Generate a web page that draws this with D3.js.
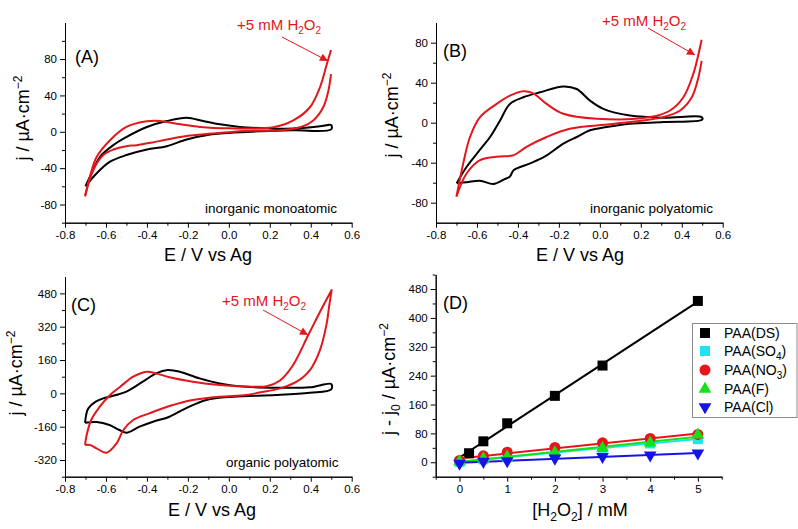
<!DOCTYPE html>
<html>
<head>
<meta charset="utf-8">
<script src="https://cdnjs.cloudflare.com/ajax/libs/d3/7.8.5/d3.min.js"></script>
<style>
  body { margin: 0; background: #fff; }
  svg text { font-family: "Liberation Sans", Arial, Helvetica, sans-serif; fill: #000; }
  .axis path, .axis line { stroke: #000; stroke-width: 1; }
  .axis text { font-size: 11.5px; font-family: "Liberation Sans", Arial, sans-serif; }
</style>
</head>
<body>
<svg id="fig" width="798" height="529"></svg>
<script>
// ---------- data ----------
// cyclic voltammograms, [E (V vs Ag), j (uA/cm2)]; forward sweep (-0.7 -> 0.5) and return sweep
var cvA_blank_fwd = [[-0.70,-60],[-0.67,-45.6],[-0.629,-27.5],[-0.564,-14.7],[-0.499,-5.6],[-0.40,5.3],[-0.303,11.8],[-0.206,15.5],[-0.125,11.8],[-0.043,8.2],[0.054,5.3],[0.185,3.8],[0.315,3.5],[0.445,6],[0.50,7.4]];
var cvA_blank_rev = [[0.50,2.7],[0.315,1.6],[0.15,0.5],[0.0,-1.3],[-0.11,-3.8],[-0.206,-8.5],[-0.303,-15.8],[-0.40,-19.5],[-0.50,-25.6],[-0.58,-32.9],[-0.645,-45.6],[-0.70,-60]];
var cvA_h2o2_fwd  = [[-0.702,-71],[-0.678,-49],[-0.645,-27.5],[-0.58,-9.3],[-0.50,5.3],[-0.40,11.5],[-0.336,11.8],[-0.255,8.9],[-0.14,5.3],[0.0,3.8],[0.217,5],[0.315,12.5],[0.396,27],[0.445,49],[0.478,74],[0.499,90]];
var cvA_h2o2_rev  = [[0.499,63.5],[0.486,45],[0.461,27],[0.412,12.5],[0.348,5],[0.25,1.6],[0.07,0.9],[-0.08,-2],[-0.206,-4.6],[-0.303,-8.5],[-0.38,-12],[-0.45,-14.7],[-0.50,-15.8],[-0.564,-19.5],[-0.613,-25.6],[-0.662,-42],[-0.702,-71]];

var cvB_blank_fwd = [[-0.699,-60.5],[-0.65,-44],[-0.585,-27],[-0.536,-14.3],[-0.487,2.3],[-0.439,18.8],[-0.374,25.4],[-0.292,30.4],[-0.178,36.3],[-0.113,33.7],[-0.048,22.1],[0.017,13.9],[0.147,7.2],[0.31,5],[0.497,5.6]];
var cvB_blank_rev = [[0.50,3],[0.31,0.6],[0.147,-1],[0.033,-4.3],[-0.048,-7.6],[-0.113,-14.3],[-0.178,-20.9],[-0.27,-34],[-0.34,-40.7],[-0.42,-47.3],[-0.44,-54],[-0.467,-56.6],[-0.52,-61.2],[-0.585,-58],[-0.65,-59.5],[-0.699,-60.5]];
var cvB_h2o2_fwd  = [[-0.70,-73.8],[-0.667,-40.7],[-0.634,-14.3],[-0.585,5.6],[-0.504,18.8],[-0.439,27],[-0.374,31.4],[-0.325,29.4],[-0.26,18.8],[-0.178,8.9],[-0.016,4],[0.245,5.6],[0.343,12.2],[0.408,25.4],[0.456,48.6],[0.481,68],[0.497,83]];
var cvB_h2o2_rev  = [[0.497,61.8],[0.481,45],[0.449,25.4],[0.392,12.2],[0.31,5.6],[0.212,2.3],[0.05,-1.5],[-0.147,-6],[-0.26,-14.3],[-0.358,-24.2],[-0.42,-32.4],[-0.504,-34],[-0.585,-37.4],[-0.65,-50.6],[-0.70,-73.8]];

var cvC_blank_fwd = [[-0.702,-141],[-0.696,-100],[-0.686,-72],[-0.65,-40],[-0.613,-24],[-0.55,-8],[-0.50,8],[-0.42,56],[-0.355,96],[-0.298,112],[-0.24,104],[-0.143,72],[-0.045,48],[0.085,32],[0.23,27],[0.396,29],[0.50,45]];
var cvC_blank_rev = [[0.50,19],[0.396,3],[0.23,-8],[0.02,-16],[-0.11,-32],[-0.21,-72],[-0.29,-112],[-0.37,-136],[-0.436,-160],[-0.50,-189],[-0.534,-176],[-0.583,-152],[-0.646,-138],[-0.702,-141]];
var cvC_h2o2_fwd  = [[-0.702,-248],[-0.696,-208],[-0.672,-128],[-0.63,-64],[-0.58,-8],[-0.53,32],[-0.467,80],[-0.40,104],[-0.355,96],[-0.29,77],[-0.176,56],[-0.045,40],[0.118,32],[0.185,34],[0.25,62],[0.31,130],[0.388,280],[0.45,400],[0.502,496]];
var cvC_h2o2_rev  = [[0.502,496],[0.49,420],[0.478,336],[0.445,208],[0.396,112],[0.331,56],[0.25,24],[0.15,4],[0.085,-8],[-0.045,-16],[-0.176,-32],[-0.29,-61],[-0.388,-96],[-0.467,-128],[-0.515,-176],[-0.548,-240],[-0.597,-285],[-0.646,-264],[-0.678,-248],[-0.702,-248]];

// calibration, j - j0 vs [H2O2] (mM)
var concDS = [0.2, 0.5, 1, 2, 3, 5];
var valDS  = [25, 58, 108, 184, 268, 447];
var conc   = [0, 0.5, 1, 2, 3, 4, 5];
var valSO4 = [1, 8, 14, 27, 40, 52, 64];
var valNO3 = [5, 18, 28, 41, 54, 66, 77];
var valF   = [2, 10, 15, 27, 39, 54, 76];
var valCl  = [-3, 2, 3.6, 11, 15.5, 20, 25];

var seriesNames = ["DS", "SO4", "NO3", "F", "Cl"];

// tick values
var cvTicksMajor = [-0.8, -0.6, -0.4, -0.2, 0.0, 0.2, 0.4, 0.6];
var cvTicksMinor = [-0.7, -0.5, -0.3, -0.1, 0.1, 0.3, 0.5];
var yTicksA = [-80, -40, 0, 40, 80],            yMinorA = [-100, -60, -20, 20, 60, 100];
var yTicksB = [-80, -40, 0, 40, 80],            yMinorB = [-60, -20, 20, 60];
var yTicksC = [-320, -160, 0, 160, 320, 480],   yMinorC = [-400, -240, -80, 80, 240, 400];
var xTicksD = [0, 1, 2, 3, 4, 5],               xMinorD = [-0.5, 0.5, 1.5, 2.5, 3.5, 4.5, 5.5];
var yTicksD = [0, 80, 160, 240, 320, 400, 480], yMinorD = [-40, 40, 120, 200, 280, 360, 440, 520];

// ---------- drawing ----------
var RED = "#e3161b";
var svg = d3.select("#fig");

var defs = svg.append("defs");
defs.append("marker")
    .attr("id", "arrowhead")
    .attr("viewBox", "0 0 10 10")
    .attr("refX", 10).attr("refY", 5)
    .attr("markerWidth", 11).attr("markerHeight", 8)
    .attr("markerUnits", "userSpaceOnUse")
    .attr("orient", "auto")
  .append("path")
    .attr("d", "M0,0L10,5L0,10Z")
    .attr("fill", RED);

function makePanel(o) {
  var x = d3.scaleLinear().domain(o.xd).range([o.left, o.right]);
  var y = d3.scaleLinear().domain(o.yd).range([o.bottom, o.top]);
  var g = svg.append("g");

  // minor ticks
  g.append("g").attr("class", "axis")
    .attr("transform", "translate(0," + o.bottom + ")")
    .call(d3.axisBottom(x).tickValues(o.xMinor).tickSize(3).tickSizeOuter(0).tickFormat(""));
  g.append("g").attr("class", "axis")
    .attr("transform", "translate(" + o.left + ",0)")
    .call(d3.axisLeft(y).tickValues(o.yMinor).tickSize(3).tickSizeOuter(0).tickFormat(""));
  // major ticks
  g.append("g").attr("class", "axis")
    .attr("transform", "translate(0," + o.bottom + ")")
    .call(d3.axisBottom(x).tickValues(o.xMajor).tickSize(5).tickSizeOuter(0).tickPadding(3).tickFormat(o.xFmt));
  g.append("g").attr("class", "axis")
    .attr("transform", "translate(" + o.left + ",0)")
    .call(d3.axisLeft(y).tickValues(o.yMajor).tickSize(5).tickSizeOuter(0).tickPadding(3).tickFormat(function(d) { return String(d); }));

  return { g: g, x: x, y: y };
}

function cvFmt(d) { return d.toFixed(1); }

// joined = true draws both sweeps as one continuous loop
function drawCV(p, fwd, rev, color, joined) {
  var line = d3.line()
    .x(function(d) { return p.x(d[0]); })
    .y(function(d) { return p.y(d[1]); })
    .curve(d3.curveCatmullRom.alpha(0.5));
  var parts = joined ? [fwd.concat(rev)] : [fwd, rev];
  parts.forEach(function(pts) {
    p.g.append("path")
      .datum(pts)
      .attr("d", line)
      .attr("fill", "none")
      .attr("stroke", color)
      .attr("stroke-width", 2)
      .attr("stroke-linejoin", "round");
  });
}

// "j / uA.cm-2" style rotated title
function yTitle(tx, ty, withJ0) {
  var t = svg.append("text")
    .attr("transform", "translate(" + tx + "," + ty + ") rotate(-90)")
    .attr("text-anchor", "middle")
    .attr("font-size", 18);
  if (withJ0) {
    t.append("tspan").text("j - j");
    t.append("tspan").attr("dy", 5).attr("font-size", 12).text("0");
    t.append("tspan").attr("dy", -5).text(" / \u00b5A\u00b7cm");
  } else {
    t.append("tspan").text("j / \u00b5A\u00b7cm");
  }
  t.append("tspan").attr("dy", -7).attr("font-size", 12).text("\u22122");
}

function xTitleCV(cx, by) {
  svg.append("text")
    .attr("x", cx).attr("y", by)
    .attr("text-anchor", "middle")
    .attr("font-size", 18)
    .text("E / V vs Ag");
}

function h2o2Note(x0, by, ax0, ay0, ax1, ay1) {
  var t = svg.append("text")
    .attr("x", x0).attr("y", by)
    .attr("font-size", 15)
    .style("fill", RED);
  t.append("tspan").text("+5 mM H");
  t.append("tspan").attr("dy", 4).attr("font-size", 10).text("2");
  t.append("tspan").attr("dy", -4).text("O");
  t.append("tspan").attr("dy", 4).attr("font-size", 10).text("2");
  svg.append("line")
    .attr("x1", ax0).attr("y1", ay0).attr("x2", ax1).attr("y2", ay1)
    .attr("stroke", RED).attr("stroke-width", 1)
    .attr("marker-end", "url(#arrowhead)");
}

function label(txt, x0, by, size) {
  svg.append("text").attr("x", x0).attr("y", by).attr("font-size", size).text(txt);
}

// ----- panel A -----
var pA = makePanel({ left: 65, right: 351.7, bottom: 222.7, top: 22.7, xd: [-0.8, 0.6], yd: [-100, 120],
                     xMajor: cvTicksMajor, xMinor: cvTicksMinor, yMajor: yTicksA, yMinor: yMinorA, xFmt: cvFmt });
drawCV(pA, cvA_blank_fwd, cvA_blank_rev, "#000", true);
drawCV(pA, cvA_h2o2_fwd, cvA_h2o2_rev, RED, false);
label("(A)", 75, 63, 18);
label("inorganic monoatomic", 205, 213, 13.5);
h2o2Note(237, 30, 282, 37, 328, 61);
yTitle(29, 118, false);
xTitleCV(208, 261);

// ----- panel B -----
var pB = makePanel({ left: 436, right: 722.7, bottom: 222.7, top: 22.7, xd: [-0.8, 0.6], yd: [-100, 100],
                     xMajor: cvTicksMajor, xMinor: cvTicksMinor, yMajor: yTicksB, yMinor: yMinorB, xFmt: cvFmt });
drawCV(pB, cvB_blank_fwd, cvB_blank_rev, "#000", true);
drawCV(pB, cvB_h2o2_fwd, cvB_h2o2_rev, RED, false);
label("(B)", 443, 57, 18);
label("inorganic polyatomic", 590, 213, 13.5);
h2o2Note(602, 26, 648, 28, 695, 55);
yTitle(398, 115, false);
xTitleCV(580, 261);

// ----- panel C -----
var pC = makePanel({ left: 65, right: 351.7, bottom: 476.7, top: 276.7, xd: [-0.8, 0.6], yd: [-400, 560],
                     xMajor: cvTicksMajor, xMinor: cvTicksMinor, yMajor: yTicksC, yMinor: yMinorC, xFmt: cvFmt });
drawCV(pC, cvC_blank_fwd, cvC_blank_rev, "#000", true);
drawCV(pC, cvC_h2o2_fwd, cvC_h2o2_rev, RED, true);
label("(C)", 71, 311, 18);
label("organic polyatomic", 226, 467, 13.5);
h2o2Note(222, 306, 263, 310, 308, 335);
yTitle(22, 373, false);
xTitleCV(212, 516);

// ----- panel D -----
var pD = makePanel({ left: 435.7, right: 721.7, bottom: 476.7, top: 274.6, xd: [-0.5, 5.5], yd: [-40, 520],
                     xMajor: xTicksD, xMinor: xMinorD, yMajor: yTicksD, yMinor: yMinorD,
                     xFmt: function(d) { return String(d); } });

var dSeries = [
  { xs: concDS, ys: valDS,  color: "#000000", shape: d3.symbolSquare,   size: 100, rot: 0 },
  { xs: conc,   ys: valSO4, color: "#1fe3ee", shape: d3.symbolSquare,   size: 100, rot: 0 },
  { xs: conc,   ys: valNO3, color: "#e8141b", shape: d3.symbolCircle,   size: 95,  rot: 0 },
  { xs: conc,   ys: valF,   color: "#17e017", shape: d3.symbolTriangle, size: 70,  rot: 0 },
  { xs: conc,   ys: valCl,  color: "#1414e6", shape: d3.symbolTriangle, size: 70,  rot: 180 }
];

// least-squares fit of each series, drawn from 0 to 5 mM
function fit(xs, ys) {
  var mx = d3.mean(xs), my = d3.mean(ys);
  var sxy = d3.sum(xs, function(v, i) { return (v - mx) * (ys[i] - my); });
  var sxx = d3.sum(xs, function(v) { return (v - mx) * (v - mx); });
  var b = sxy / sxx;
  return { a: my - b * mx, b: b };
}

dSeries.forEach(function(s) {
  var f = fit(s.xs, s.ys);
  pD.g.append("line")
    .attr("x1", pD.x(0)).attr("y1", pD.y(f.a))
    .attr("x2", pD.x(5)).attr("y2", pD.y(f.a + 5 * f.b))
    .attr("stroke", s.color).attr("stroke-width", 2);
});
dSeries.forEach(function(s) {
  pD.g.selectAll(null)
    .data(s.xs.map(function(v, i) { return [v, s.ys[i]]; }))
    .enter().append("path")
    .attr("d", d3.symbol().type(s.shape).size(s.size))
    .attr("transform", function(d) {
      return "translate(" + pD.x(d[0]) + "," + pD.y(d[1]) + ")" + (s.rot ? " rotate(" + s.rot + ")" : "");
    })
    .attr("fill", s.color);
});

label("(D)", 443, 309, 18);

// legend
var lg = svg.append("g");
lg.append("rect")
  .attr("x", 692.5).attr("y", 323.5).attr("width", 104.5).attr("height", 94)
  .attr("fill", "#fff").attr("stroke", "#8c8c8c").attr("stroke-width", 1);
var rowY = [333, 351, 370, 389, 407];
dSeries.forEach(function(s, i) {
  lg.append("path")
    .attr("d", d3.symbol().type(s.shape).size(s.size))
    .attr("transform", "translate(705," + rowY[i] + ")" + (s.rot ? " rotate(" + s.rot + ")" : ""))
    .attr("fill", s.color);
  var t = lg.append("text").attr("x", 724).attr("y", rowY[i] + 5).attr("font-size", 14);
  var name = seriesNames[i];
  var m = name.match(/^([A-Za-z]+)(\d)$/);
  if (m) {
    t.append("tspan").text("PAA(" + m[1]);
    t.append("tspan").attr("dy", 4).attr("font-size", 10).text(m[2]);
    t.append("tspan").attr("dy", -4).text(")");
  } else {
    t.text("PAA(" + name + ")");
  }
});

yTitle(395, 379, true);
var tx = svg.append("text").attr("x", 580).attr("y", 516).attr("text-anchor", "middle").attr("font-size", 18);
tx.append("tspan").text("[H");
tx.append("tspan").attr("dy", 5).attr("font-size", 12).text("2");
tx.append("tspan").attr("dy", -5).text("O");
tx.append("tspan").attr("dy", 5).attr("font-size", 12).text("2");
tx.append("tspan").attr("dy", -5).text("] / mM");
</script>
</body>
</html>
